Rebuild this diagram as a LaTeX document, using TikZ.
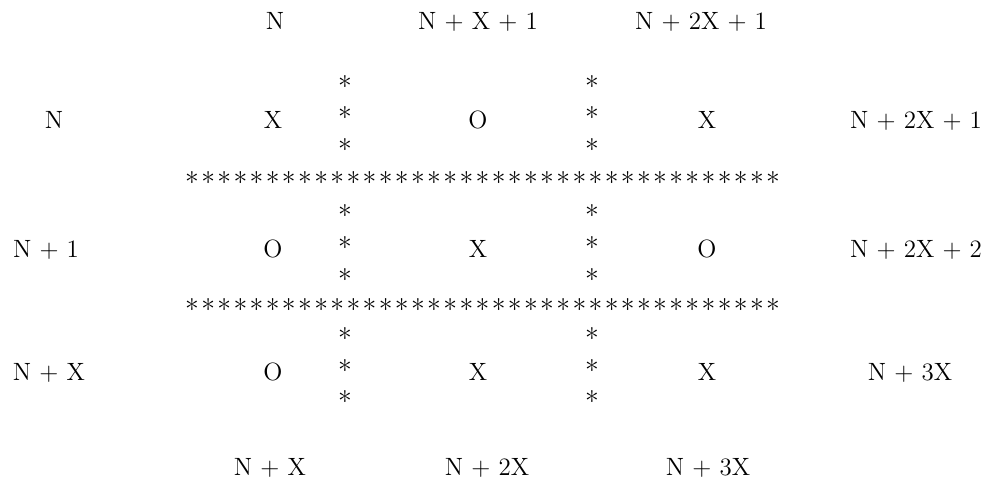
\documentclass[tikz,border=0pt]{standalone}
\usetikzlibrary{positioning}
\tikzset{
  idx/.style={
    inner sep=0pt,
    anchor=base,
    font=\fontsize{12.5}{15}\selectfont
  },
  cell/.style={idx},
  ast/.style={idx, font=\fontsize{14}{16}\selectfont},
}
\begin{document}
\begin{tikzpicture}[x=0.5pt, y=-0.5pt]
\useasboundingbox (0,0) rectangle (990,480);

% Column indices along the top
\node[idx] (top1) at (275,30) {N};
\node[idx] (top2) at (478,30) {N + X + 1};
\node[idx] (top3) at (701,30) {N + 2X + 1};

% Row indices on the left
\node[idx] (left1) at (54,129) {N};
\node[idx] (left2) at (46,258) {N + 1};
\node[idx] (left3) at (49,381) {N + X};

% Row indices on the right
\node[idx] (right1) at (916,129) {N + 2X + 1};
\node[idx] (right2) at (916,258) {N + 2X + 2};
\node[idx] (right3) at (910,381) {N + 3X};

% Column indices along the bottom
\node[idx] (bot1) at (270,475) {N + X};
\node[idx] (bot2) at (487,475) {N + 2X};
\node[idx] (bot3) at (708,475) {N + 3X};

% Board cells
\node[cell] (c11) at (273,129) {X};
\node[cell] (c12) at (478,129) {O};
\node[cell] (c13) at (707,129) {X};
\node[cell] (c21) at (273,258) {O};
\node[cell] (c22) at (478,258) {X};
\node[cell] (c23) at (707,258) {O};
\node[cell] (c31) at (273,381) {O};
\node[cell] (c32) at (478,381) {X};
\node[cell] (c33) at (707,381) {X};

% Vertical star separators
\foreach \x in {345,592}
  \foreach \y in {82,113,145,211,243,275,334,365,397}
    \node[ast] (vs\x-\y) at (\x,\y+15) {*};

% Horizontal star separators
\foreach \y in {193,320}
  \foreach \i in {0,...,36}
    \node[ast] (hs\y-\i) at ({192+16.14*\i},\y) {*};

\end{tikzpicture}
\end{document}
